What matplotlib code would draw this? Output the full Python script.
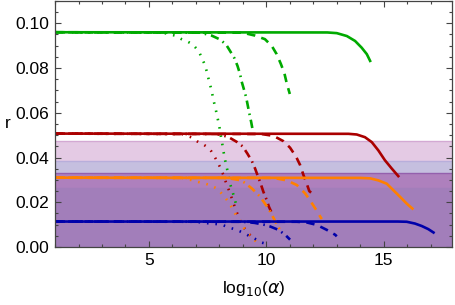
import matplotlib
matplotlib.use("Agg")
import matplotlib.pyplot as plt
from matplotlib.ticker import MultipleLocator, FormatStrFormatter

plt.rcParams['font.family'] = ['Liberation Sans', 'DejaVu Sans']
plt.rcParams['mathtext.fontset'] = 'dejavusans'

# shaded bands (upper edge of each filled region)
band_levels = [0.0476, 0.0384, 0.0331, 0.0266]
band_colors = ['#e4cae4', '#c5bfdf', '#ae80bd', '#a27eba']
band_edges = ['#d3a9d3', '#b8aedb', '#9460ad', '#a27eba']

# green family
green_dot_x = [1, 5.6, 6.11, 6.39, 6.63, 6.86, 7.03, 7.17, 7.29, 7.39, 7.46, 7.57, 7.67, 7.74,
               7.84, 7.93, 8.0, 8.06, 8.13, 8.17, 8.24, 8.34, 8.45, 8.6, 8.74]
green_dot_r = [0.096, 0.0958, 0.0945, 0.0929, 0.0919, 0.0906, 0.0886, 0.0864, 0.0836, 0.0812,
               0.0785, 0.0738, 0.0699, 0.0660, 0.0617, 0.0573, 0.0537, 0.0498, 0.0456, 0.0430,
               0.0390, 0.0343, 0.0285, 0.0233, 0.018]
green_dd_x = [1, 7.2, 7.67, 8.0, 8.28, 8.45, 8.64, 8.77, 8.88, 8.95, 9.05, 9.14, 9.21, 9.28, 9.35, 9.43]
green_dd_r = [0.096, 0.0958, 0.0945, 0.0929, 0.0906, 0.0877, 0.0844, 0.0810, 0.0773, 0.0739,
              0.0703, 0.0669, 0.0632, 0.0595, 0.0561, 0.0516]
green_dash_x = [1, 9.0, 9.52, 9.94, 10.23, 10.44, 10.62, 10.77, 10.87, 11.0]
green_dash_r = [0.096, 0.0958, 0.0945, 0.0929, 0.0899, 0.0862, 0.0818, 0.0776, 0.0731, 0.0684]
green_sol_x = [1, 12.6, 13.0, 13.43, 13.78, 14.06, 14.28, 14.42]
green_sol_r = [0.096, 0.0959, 0.0956, 0.0943, 0.0921, 0.0891, 0.0862, 0.0832]

# red family
red_dot_x = [1, 6.4, 6.82, 7.06, 7.29, 7.5, 7.67, 7.81, 7.95, 8.06, 8.17, 8.24, 8.34, 8.45,
             8.6, 8.74, 8.88, 9.02, 9.23, 9.44]
red_dot_r = [0.0507, 0.0505, 0.0490, 0.0472, 0.0460, 0.0446, 0.0426, 0.0401, 0.0374, 0.0350,
             0.0322, 0.0300, 0.0272, 0.0242, 0.0196, 0.0155, 0.0120, 0.0090, 0.0061, 0.0040]
red_dd_x = [1, 7.9, 8.38, 8.74, 8.99, 9.19, 9.38, 9.52, 9.62, 9.76, 9.87, 10.02, 10.11, 10.22]
red_dd_r = [0.0507, 0.0505, 0.0492, 0.0470, 0.0450, 0.0418, 0.0385, 0.0351, 0.0322, 0.0283,
            0.0248, 0.0209, 0.0180, 0.0155]
red_dash_x = [1, 9.8, 10.3, 10.73, 11.01, 11.27, 11.44, 11.58, 11.72, 11.83, 11.98]
red_dash_r = [0.0507, 0.0505, 0.0497, 0.0473, 0.0444, 0.0403, 0.0366, 0.0322, 0.0283, 0.0250, 0.0237]
red_sol_x = [1, 13.5, 13.85, 14.2, 14.49, 14.77, 15.05, 15.34, 15.62]
red_sol_r = [0.0507, 0.0506, 0.0503, 0.0491, 0.0469, 0.0432, 0.0388, 0.0351, 0.0317]

# orange family
orange_dot_x = [1, 6.4, 6.82, 7.1, 7.39, 7.6, 7.89, 8.03, 8.24, 8.38, 8.53, 8.67, 8.81, 9.09, 9.38, 9.66]
orange_dot_r = [0.031, 0.0309, 0.0299, 0.0291, 0.0284, 0.0276, 0.0262, 0.0247, 0.0222, 0.0202,
                0.0177, 0.0150, 0.0129, 0.0077, 0.0040, 0.0018]
orange_dd_x = [1, 8.3, 8.88, 9.09, 9.38, 9.66, 9.87, 10.09, 10.28, 10.44, 10.58]
orange_dd_r = [0.031, 0.0309, 0.0299, 0.0287, 0.0262, 0.0233, 0.0205, 0.0172, 0.0135, 0.0103, 0.0077]
orange_dash_x = [1, 10.3, 10.87, 11.3, 11.65, 11.86, 12.08, 12.36]
orange_dash_r = [0.031, 0.0309, 0.0298, 0.0277, 0.0240, 0.0209, 0.0173, 0.0125]
orange_sol_x = [1, 14.0, 14.42, 14.77, 15.13, 15.41, 15.7, 15.98, 16.22]
orange_sol_r = [0.031, 0.0309, 0.0307, 0.0298, 0.0283, 0.0254, 0.0224, 0.0194, 0.0172]

# blue family
blue_dot_x = [1, 7.0, 7.46, 7.96, 8.17, 8.45, 8.67, 8.88, 9.16, 9.38, 9.59, 9.8, 10.08]
blue_dot_r = [0.0114, 0.0113, 0.0107, 0.0102, 0.0097, 0.0086, 0.0079, 0.0070, 0.0056, 0.0043,
              0.0033, 0.0020, 0.0012]
blue_dd_x = [1, 9.0, 9.5, 9.94, 10.16, 10.51, 10.8, 11.01]
blue_dd_r = [0.0114, 0.0113, 0.0108, 0.0099, 0.0092, 0.0077, 0.0055, 0.0033]
blue_dash_x = [1, 11.3, 11.72, 12.15, 12.57, 12.93, 13.0]
blue_dash_r = [0.0114, 0.0113, 0.0110, 0.0099, 0.0077, 0.0055, 0.0048]
blue_sol_x = [1, 15.6, 15.98, 16.33, 16.62, 16.9, 17.12]
blue_sol_r = [0.0114, 0.0114, 0.0113, 0.0105, 0.0094, 0.0080, 0.0065]

GREEN, RED, ORANGE, BLUE = '#00aa00', '#aa0000', '#ff8000', '#0000aa'
DOT = (0, (0.6, 2.6))
DASH = (0, (3.2, 2.4))
DASHDOT = (0, (3.2, 1.8, 0.6, 1.8))

fig = plt.figure(figsize=(4.55, 3.05), dpi=100)
ax = fig.add_axes([0.121, 0.19, 0.872, 0.807])

for lev, col, ec in zip(band_levels, band_colors, band_edges):
    ax.axhspan(0, lev, color=col, lw=0, zorder=1)
    ax.axhline(lev, color=ec, lw=1.0, zorder=1.5)

curves = [
    (green_dot_x, green_dot_r, GREEN, DOT), (green_dd_x, green_dd_r, GREEN, DASHDOT),
    (green_dash_x, green_dash_r, GREEN, DASH), (green_sol_x, green_sol_r, GREEN, '-'),
    (red_dot_x, red_dot_r, RED, DOT), (red_dd_x, red_dd_r, RED, DASHDOT),
    (red_dash_x, red_dash_r, RED, DASH), (red_sol_x, red_sol_r, RED, '-'),
    (orange_dot_x, orange_dot_r, ORANGE, DOT), (orange_dd_x, orange_dd_r, ORANGE, DASHDOT),
    (orange_dash_x, orange_dash_r, ORANGE, DASH), (orange_sol_x, orange_sol_r, ORANGE, '-'),
    (blue_dot_x, blue_dot_r, BLUE, DOT), (blue_dd_x, blue_dd_r, BLUE, DASHDOT),
    (blue_dash_x, blue_dash_r, BLUE, DASH), (blue_sol_x, blue_sol_r, BLUE, '-'),
]
for x, r, c, ls in curves:
    ax.plot(x, r, color=c, ls=ls, lw=1.9, zorder=3)

ax.set_xlim(1, 17.9)
ax.set_ylim(0, 0.11)
ax.xaxis.set_major_locator(MultipleLocator(5))
ax.xaxis.set_minor_locator(MultipleLocator(1))
ax.yaxis.set_major_locator(MultipleLocator(0.02))
ax.yaxis.set_minor_locator(MultipleLocator(0.005))
ax.yaxis.set_major_formatter(FormatStrFormatter('%.2f'))
ax.tick_params(which='both', direction='in', top=True, right=True, color='#444444',
               labelsize=12.5, width=0.8)
ax.tick_params(which='major', length=4, pad=4)
ax.tick_params(which='minor', length=2.5)
for s in ax.spines.values():
    s.set_color('#444444')
    s.set_linewidth(0.9)
    s.set_zorder(5)

ax.set_xlabel(r'log$_{10}$($\alpha$)', fontsize=12.5, labelpad=8)
ax.set_ylabel('r', fontsize=12.5, rotation=0, labelpad=6, va='center')

fig.savefig('out.png', dpi=100)
